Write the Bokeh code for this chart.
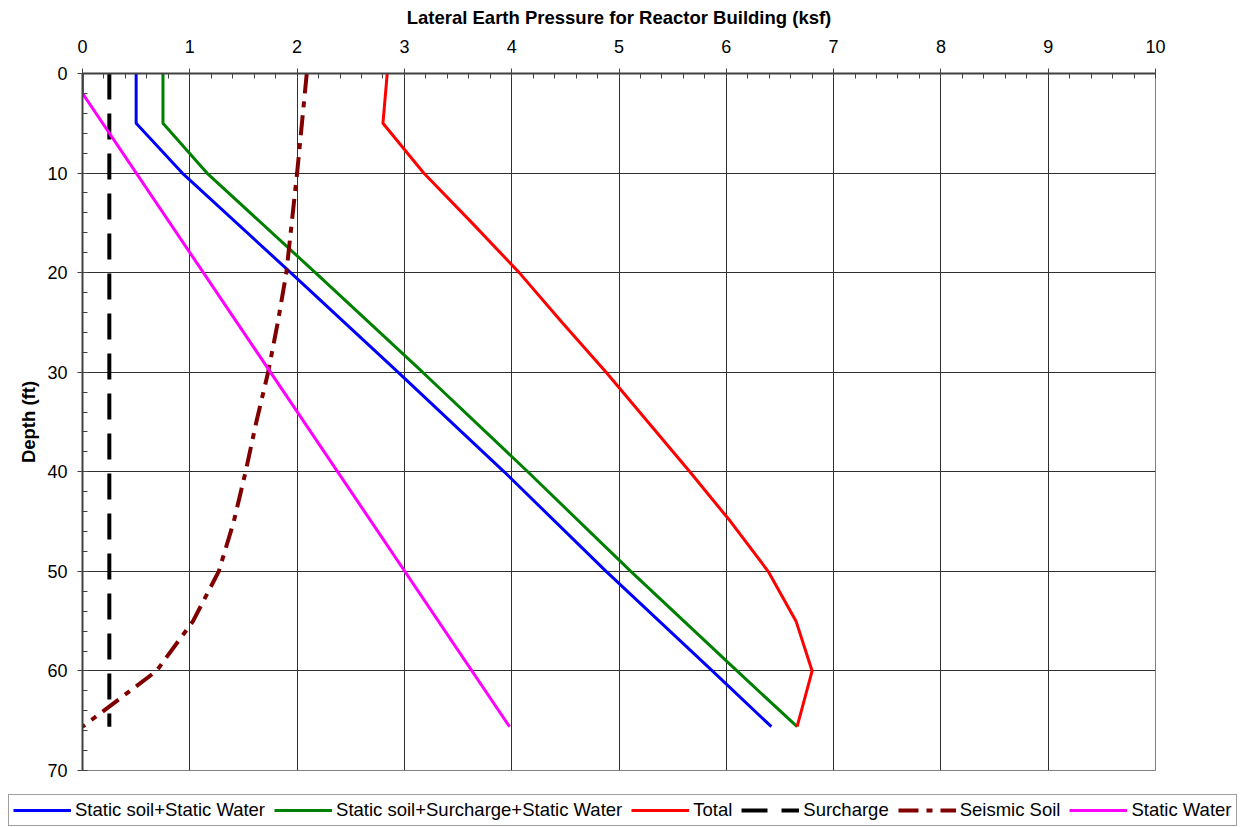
from bokeh.plotting import figure
from bokeh.models import Range1d, FixedTicker, Legend, LegendItem
from bokeh.embed import file_html
from bokeh.resources import INLINE

# ---- data (ksf vs depth ft) ----
depth_static = [0, 5, 10, 20, 30, 40, 50, 60, 65.6]
static_soil_water = [0.50, 0.50, 0.93, 1.94, 2.94, 3.93, 4.88, 5.87, 6.42]
static_soil_surch_water = [0.75, 0.75, 1.16, 2.17, 3.17, 4.15, 5.11, 6.10, 6.66]

depth_total = [0, 5, 10, 15, 20, 25, 30, 35, 40, 45, 50, 55, 60, 65.6]
total = [2.84, 2.80, 3.18, 3.63, 4.07, 4.47, 4.88, 5.27, 5.66, 6.04, 6.39, 6.65, 6.80, 6.66]

depth_surcharge = [0, 65.6]
surcharge = [0.25, 0.25]

depth_seismic = [0, 10, 15, 20, 25, 30, 35, 40, 45, 50, 55, 60, 65.6]
seismic_soil = [2.09, 2.00, 1.95, 1.90, 1.82, 1.73, 1.62, 1.52, 1.41, 1.27, 1.03, 0.69, 0.0]

depth_water = [0, 2, 65.6]
static_water = [0.0, 0.0, 3.98]

x_ticks = [0, 1, 2, 3, 4, 5, 6, 7, 8, 9, 10]
y_ticks = [0, 10, 20, 30, 40, 50, 60, 70]

series_labels = ["Static soil+Static Water", "Static soil+Surcharge+Static Water",
                 "Total", "Surcharge", "Seismic Soil", "Static Water"]

FONT = "Liberation Sans"

styles = [
    dict(line_color="#0000FF", line_width=3),
    dict(line_color="#008000", line_width=3),
    dict(line_color="#FF0000", line_width=3),
    dict(line_color="black", line_width=4, line_dash="26 14"),
    dict(line_color="#800000", line_width=4, line_dash="20 8 6 8"),
    dict(line_color="#FF00FF", line_width=3),
]

xs = [static_soil_water, static_soil_surch_water, total, surcharge, seismic_soil, static_water]
ys = [depth_static, depth_static, depth_total, depth_surcharge, depth_seismic, depth_water]

# ---------------- main chart ----------------
p = figure(width=1240, height=790, output_backend="svg", toolbar_location=None,
           x_range=Range1d(0, 10), y_range=Range1d(70, 0),
           x_axis_location="above",
           min_border_left=82, min_border_right=85, min_border_top=73, min_border_bottom=20)

p.background_fill_color = "white"
p.border_fill_color = "white"
p.outline_line_color = "#808080"

xa = p.xaxis[0]
ya = p.yaxis[0]
xa.ticker = FixedTicker(ticks=x_ticks, minor_ticks=[i * 0.2 for i in range(51)])
ya.ticker = FixedTicker(ticks=y_ticks, minor_ticks=list(range(0, 71, 2)))
xa.axis_label = "Lateral Earth Pressure for Reactor Building (ksf)"
ya.axis_label = "Depth (ft)"
for ax in (xa, ya):
    ax.axis_label_text_font = FONT
    ax.axis_label_text_font_style = "bold"
    ax.axis_label_text_font_size = "18.5px"
    ax.axis_label_text_color = "black"
    ax.major_label_text_font = FONT
    ax.major_label_text_font_size = "18px"
    ax.major_label_text_color = "black"
    ax.axis_line_color = "#404040"
    ax.axis_line_width = 2
    ax.major_tick_line_color = "#404040"
    ax.minor_tick_line_color = "#404040"
    ax.major_tick_out = 5
    ax.major_tick_in = 0
    ax.minor_tick_out = 0
    ax.minor_tick_in = 5
xa.major_label_standoff = 16
xa.axis_label_standoff = 9
ya.major_label_standoff = 10
ya.axis_label_standoff = 5

p.xgrid.ticker = FixedTicker(ticks=x_ticks)
p.ygrid.ticker = FixedTicker(ticks=y_ticks)
for g in (p.xgrid[0], p.ygrid[0]):
    g.grid_line_color = "#303030"
    g.grid_line_alpha = 1.0
    g.grid_line_width = 1

for xv, yv, st in zip(xs, ys, styles):
    p.line(xv, yv, **st)

# ---------------- legend strip (separate root, full width) ----------------
q = figure(width=1240, height=37, output_backend="svg", toolbar_location=None,
           x_range=Range1d(-30, -29), y_range=Range1d(-30, -29),
           x_axis_location=None, y_axis_location=None,
           min_border_left=0, min_border_right=0, min_border_top=0, min_border_bottom=0)
q.outline_line_color = None
q.xgrid.visible = False
q.ygrid.visible = False
q.background_fill_color = "white"
q.border_fill_color = "white"

items = []
for xv, yv, st, lab in zip(xs, ys, styles, series_labels):
    r = q.line(xv, yv, **st)
    items.append(LegendItem(label=lab, renderers=[r]))

legend = Legend(items=items, orientation="horizontal", location=(8, 1))
legend.label_text_font = FONT
legend.label_text_font_size = "18.5px"
legend.label_text_color = "black"
legend.glyph_width = 58
legend.glyph_height = 20
legend.label_standoff = 4
legend.spacing = 9
legend.padding = 4
legend.margin = 0
legend.border_line_color = "#404040"
legend.border_line_width = 1
legend.background_fill_color = "white"
legend.background_fill_alpha = 1.0
q.add_layout(legend, "center")

open("out.html", "w").write(file_html([p, q], INLINE))
